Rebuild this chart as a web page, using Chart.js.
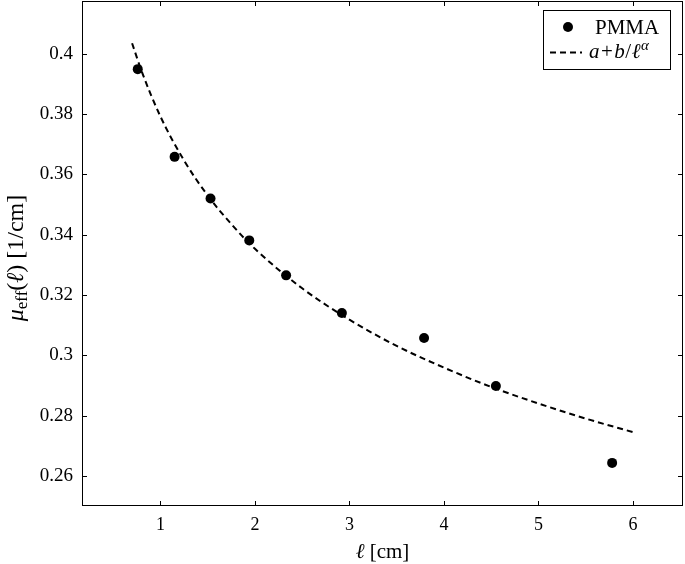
<!DOCTYPE html>
<html>
<head>
<meta charset="utf-8">
<script src="https://cdn.jsdelivr.net/npm/chart.js@4.4.0/dist/chart.umd.min.js"></script>
<style>
  html, body { margin: 0; padding: 0; background: #fff; }
</style>
</head>
<body>
<canvas id="chart" width="685" height="564"></canvas>
<script>
// measured points (PMMA)
const lengths = [0.76, 1.15, 1.53, 1.94, 2.33, 2.92, 3.79, 4.55, 5.78];
const muEff = [0.3949, 0.3658, 0.3520, 0.3381, 0.3265, 0.3140, 0.3057, 0.2898, 0.2643];

// dashed fit curve
const fitX = [0.7, 0.8, 1.0, 1.25, 1.5, 1.75, 2.0, 2.5, 3.0, 3.5, 4.0, 4.5, 5.0, 5.5, 6.0];
const fitY = [0.4035, 0.3943, 0.3792, 0.3646, 0.3530, 0.3435, 0.3353, 0.3222, 0.3118, 0.3031, 0.2959, 0.2895, 0.2840, 0.2790, 0.2745];

const xTicks = [1, 2, 3, 4, 5, 6];
const yTicks = [0.26, 0.28, 0.3, 0.32, 0.34, 0.36, 0.38, 0.4];

const serif = "'Liberation Serif', 'DejaVu Serif', serif";

// draws a row of text pieces with different fonts / offsets
function drawRuns(ctx, runs, x, y, align) {
    let total = 0;
    runs.forEach(r => { ctx.font = r.font; r.w = ctx.measureText(r.t).width + (r.gap || 0); total += r.w; });
    let cx = align === 'center' ? x - total / 2 : x;
    ctx.textAlign = 'left';
    ctx.textBaseline = 'alphabetic';
    runs.forEach(r => {
        ctx.font = r.font;
        ctx.fillText(r.t, cx + (r.gap || 0) / 2, y + (r.dy || 0));
        cx += r.w;
    });
}

const framePlugin = {
    id: 'frame',
    afterDraw(chart) {
        const ctx = chart.ctx;
        const a = chart.chartArea;
        const xs = chart.scales.x, ys = chart.scales.y;
        ctx.save();
        ctx.strokeStyle = '#000';
        ctx.lineWidth = 1;
        ctx.setLineDash([]);
        ctx.strokeRect(Math.round(a.left) + 0.5, Math.round(a.top) + 0.5,
            Math.round(a.right - a.left) - 1, Math.round(a.bottom - a.top) - 1);
        const tl = 5;
        ctx.beginPath();
        xTicks.forEach(v => {
            const px = Math.round(xs.getPixelForValue(v)) + 0.5;
            ctx.moveTo(px, a.bottom); ctx.lineTo(px, a.bottom - tl);
            ctx.moveTo(px, a.top); ctx.lineTo(px, a.top + tl);
        });
        yTicks.forEach(v => {
            const py = Math.round(ys.getPixelForValue(v)) + 0.5;
            ctx.moveTo(a.left, py); ctx.lineTo(a.left + tl, py);
            ctx.moveTo(a.right, py); ctx.lineTo(a.right - tl, py);
        });
        ctx.stroke();

        ctx.fillStyle = '#000';
        // x title
        drawRuns(ctx, [
            { t: 'ℓ', font: 'italic 21px ' + serif },
            { t: ' [cm]', font: '21px ' + serif }
        ], (a.left + a.right) / 2, 558, 'center');

        // y title (rotated)
        ctx.save();
        ctx.translate(23, 258);
        ctx.rotate(-Math.PI / 2);
        drawRuns(ctx, [
            { t: 'μ', font: 'italic 24px ' + serif },
            { t: 'eff', font: '17px ' + serif, dy: 4 },
            { t: '(', font: '24px ' + serif },
            { t: 'ℓ', font: 'italic 24px ' + serif },
            { t: ')', font: '24px ' + serif },
            { t: ' [1/cm]', font: '24px ' + serif }
        ], 0, 0, 'center');
        ctx.restore();

        // legend
        const ds = chart.data.datasets;
        ctx.fillStyle = '#fff';
        ctx.fillRect(543.5, 10.5, 127, 59);
        ctx.strokeRect(543.5, 10.5, 127, 59);
        ctx.fillStyle = '#000';
        ctx.beginPath();
        ctx.arc(568, 27, 5, 0, Math.PI * 2);
        ctx.fill();
        drawRuns(ctx, [{ t: ds[0].label, font: '21px ' + serif }], 595, 34, 'left');
        ctx.beginPath();
        ctx.setLineDash([6, 4]);
        ctx.lineWidth = 1.8;
        ctx.moveTo(550, 52.5); ctx.lineTo(582, 52.5);
        ctx.stroke();
        ctx.setLineDash([]);
        drawRuns(ctx, [
            { t: 'a', font: 'italic 21px ' + serif },
            { t: '+', font: '21px ' + serif, gap: 3 },
            { t: 'b', font: 'italic 21px ' + serif },
            { t: '/', font: '21px ' + serif, gap: 1 },
            { t: 'ℓ', font: 'italic 21px ' + serif },
            { t: 'α', font: 'italic 15px ' + serif, dy: -8, gap: 1 }
        ], 589, 58, 'left');
        ctx.restore();
    }
};

new Chart(document.getElementById('chart').getContext('2d'), {
    type: 'scatter',
    data: {
        datasets: [
            {
                label: 'PMMA',
                data: lengths.map((x, i) => ({ x: x, y: muEff[i] })),
                pointRadius: 5,
                pointBackgroundColor: '#000',
                pointBorderWidth: 0,
                order: 1
            },
            {
                label: 'a+b/ℓ^α',
                data: fitX.map((x, i) => ({ x: x, y: fitY[i] })),
                showLine: true,
                borderColor: '#000',
                borderWidth: 2,
                borderDash: [6, 4],
                pointRadius: 0,
                cubicInterpolationMode: 'monotone',
                order: 0
            }
        ]
    },
    options: {
        responsive: false,
        devicePixelRatio: 1,
        animation: false,
        layout: { autoPadding: false, padding: { top: 1, right: 2, left: 0, bottom: 0 } },
        plugins: {
            legend: { display: false },
            tooltip: { enabled: false }
        },
        scales: {
            x: {
                type: 'linear',
                min: 0.17,
                max: 6.53,
                afterBuildTicks: scale => { scale.ticks = xTicks.map(v => ({ value: v })); },
                afterFit: scale => {
                    scale.height = 58;
                    scale.paddingLeft = 0;
                    scale.paddingRight = 0;
                },
                grid: { display: false, drawTicks: false },
                border: { display: false },
                ticks: {
                    color: '#000',
                    padding: 8,
                    maxRotation: 0,
                    font: { family: serif, size: 18 },
                    callback: v => String(v)
                }
            },
            y: {
                type: 'linear',
                min: 0.25,
                max: 0.4175,
                afterBuildTicks: scale => { scale.ticks = yTicks.map(v => ({ value: v })); },
                afterFit: scale => {
                    scale.width = 82;
                    scale.paddingTop = 0;
                    scale.paddingBottom = 0;
                },
                grid: { display: false, drawTicks: false },
                border: { display: false },
                ticks: {
                    color: '#000',
                    padding: 9,
                    font: { family: serif, size: 19 },
                    callback: v => String(v)
                }
            }
        }
    },
    plugins: [framePlugin]
});
</script>
</body>
</html>
